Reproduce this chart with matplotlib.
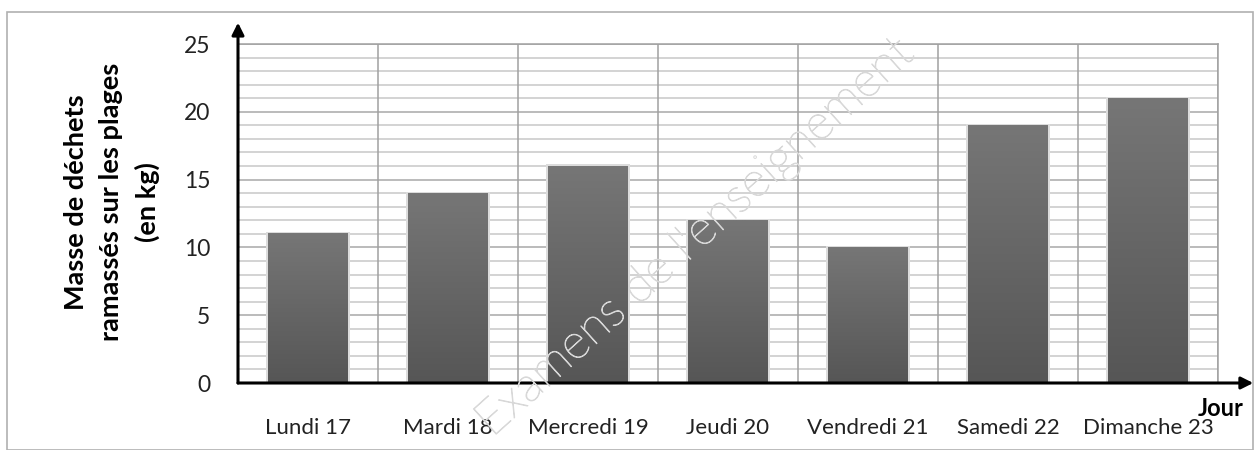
import numpy as np
import matplotlib
matplotlib.use("Agg")
import matplotlib.pyplot as plt
import matplotlib.patheffects as pe
from matplotlib.patches import Rectangle

# Données
jours = ["Lundi 17", "Mardi 18", "Mercredi 19", "Jeudi 20",
         "Vendredi 21", "Samedi 22", "Dimanche 23"]
masses = [11, 14, 16, 12, 10, 19, 21]
yticks = [0, 5, 10, 15, 20, 25]

plt.rcParams['font.family'] = ['Lato', 'DejaVu Sans']

fig = plt.figure(figsize=(12.55, 4.5), dpi=100)
ax = fig.add_axes([238 / 1255, 1 - 383 / 450, 980 / 1255, 339 / 450])

# cadre extérieur
fig.patches.append(Rectangle((7 / 1255, 0.0), 1246 / 1255, 1 - 12 / 450,
                             transform=fig.transFigure, fill=False,
                             edgecolor="#b0b0b0", lw=1.2, zorder=0))

x = np.arange(len(jours))
larg = 0.57

# grille horizontale
for v in range(0, 26):
    col = "#a8a8a8" if v % 5 == 0 else "#c8c8c8"
    ax.axhline(v, color=col, lw=1.1, zorder=0)
# séparations verticales
for s in np.arange(0.5, len(jours), 1):
    ax.axvline(s, color="#a0a0a0", lw=1.1, zorder=0)

# barres avec dégradé et ombre
grad = np.linspace(0, 1, 100).reshape(-1, 1)
cmap = matplotlib.colors.LinearSegmentedColormap.from_list("g", ["#565656", "#767676"])
for xi, m in zip(x, masses):
    ax.add_patch(Rectangle((xi - larg / 2 - 0.012, 0), larg + 0.03, m + 0.12,
                           color="#dcdcdc", zorder=1, lw=0))
    ax.imshow(grad, extent=[xi - larg / 2, xi + larg / 2, 0, m], origin="lower",
              cmap=cmap, aspect="auto", zorder=2)

ax.set_xlim(-0.5, len(jours) - 0.5)
ax.set_ylim(0, 25)
ax.set_aspect("auto")

ax.set_xticks(x)
ax.set_xticklabels(jours, fontsize=16, color="#222222")
ax.set_yticks(yticks)
ax.set_yticklabels([str(t) for t in yticks], fontsize=16.5, color="#222222")
ax.tick_params(axis="x", length=0, pad=25)
ax.tick_params(axis="y", length=0, pad=20)

for s in ["top", "right"]:
    ax.spines[s].set_color("#a0a0a0")
    ax.spines[s].set_linewidth(1.1)
for s in ["left", "bottom"]:
    ax.spines[s].set_visible(False)

# axes avec flèches
ax.annotate("", xy=(0, 1.063), xytext=(0, 0), xycoords="axes fraction",
            arrowprops=dict(arrowstyle="-|>", color="black", lw=2.2,
                            mutation_scale=18, shrinkA=0, shrinkB=0),
            annotation_clip=False)
ax.annotate("", xy=(1.036, 0), xytext=(0, 0), xycoords="axes fraction",
            arrowprops=dict(arrowstyle="-|>", color="black", lw=2.2,
                            mutation_scale=18, shrinkA=0, shrinkB=0),
            annotation_clip=False)

fig.text(112 / 1255, 1 - 202 / 450, "Masse de déchets\nramassés sur les plages\n(en kg)",
         rotation=90, ha="center", va="center", fontsize=19.5, fontweight="bold",
         linespacing=1.55)
fig.text(1244 / 1255, 1 - 408 / 450, "Jour", ha="right", va="center",
         fontsize=17, fontweight="bold")

# filigrane
fig.text(492 / 1255, 1 - 438 / 450, "Examens de l'enseignement", rotation=42,
         rotation_mode="anchor", ha="left", va="baseline", fontsize=35,
         fontweight="light", color="none", zorder=10,
         path_effects=[pe.Stroke(linewidth=0.7, foreground="#d8d8d8")])

fig.savefig("out.png", dpi=100)
